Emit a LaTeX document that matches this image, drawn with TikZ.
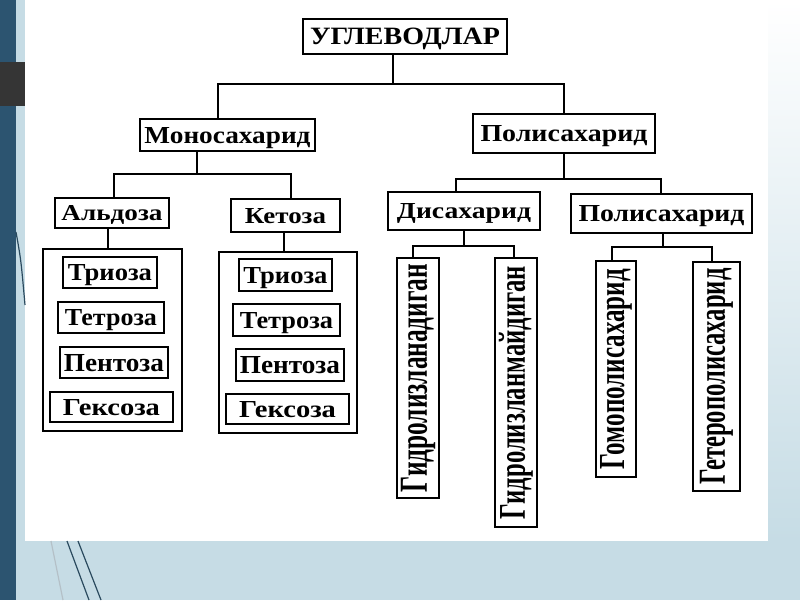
\documentclass[tikz,border=0pt]{standalone}
\usepackage{fontspec}
\setmainfont{Liberation Serif}
\usepackage{graphicx}
\newcommand\lbl[3]{\raisebox{0pt}[#2][0pt]{\resizebox{#1}{#2}{\bfseries #3}}}
\newcommand\vlbl[3]{\rotatebox{90}{\resizebox{#1}{#2}{\bfseries #3}}}
\definecolor{bgblue}{HTML}{C6DCE5}
\definecolor{stripc}{HTML}{2C5470}
\definecolor{sqc}{HTML}{353535}
\definecolor{decoc}{HTML}{2A4A5E}
\begin{document}
\begin{tikzpicture}[x=1pt,y=-1pt,
  box/.style={draw=black, line width=1.8pt, inner sep=0pt, fill=white},
  conn/.style={line width=1.8pt, draw=black},
  deco/.style={line width=1.2pt, draw=decoc}]
\useasboundingbox (0,0) rectangle (800,600);
% background
\fill[bgblue] (0,0) rectangle (800,600);
\shade[top color=white, bottom color=bgblue] (768,0) rectangle (800,541);
\fill[white] (25,0) rectangle (768,541);
\fill[stripc] (0,0) rectangle (16,600);
\fill[sqc] (0,62) rectangle (25,106);
\draw[deco] (16,232) .. controls (21,260) .. (25,305);
\draw[deco] (67,541) -- (89,600);
\draw[deco] (78,541) -- (101,600);
\draw[deco, draw=decoc!35] (51,541) -- (63,600);

% nodes
\node[box, minimum width=204pt, minimum height=35pt] (root) at (405,36.5) {\lbl{190pt}{16.5pt}{УГЛЕВОДЛАР}};
\node[box, minimum width=175pt, minimum height=32pt] (mono) at (227.5,135) {\lbl{166pt}{16pt}{Моносахарид}};
\node[box, minimum width=182pt, minimum height=39pt] (poli) at (564,133.5) {\lbl{167pt}{16pt}{Полисахарид}};
\node[box, minimum width=114pt, minimum height=30pt] (ald) at (112,213) {\lbl{101pt}{15pt}{Альдоза}};
\node[box, minimum width=109pt, minimum height=33pt] (ket) at (285.5,215.5) {\lbl{81pt}{15pt}{Кетоза}};
\node[box, minimum width=152pt, minimum height=38pt] (disah) at (464,211) {\lbl{134pt}{15pt}{Дисахарид}};
\node[box, minimum width=181pt, minimum height=39pt] (poli2) at (661.5,213.5) {\lbl{166pt}{16pt}{Полисахарид}};

\node[box, minimum width=139pt, minimum height=182pt] (g1) at (112.5,340) {};
\node[box, minimum width=138pt, minimum height=181pt] (g2) at (288,342.5) {};

\node[box, minimum width=94pt, minimum height=31pt] (t1) at (110,272.5) {\lbl{84pt}{16pt}{Триоза}};
\node[box, minimum width=106pt, minimum height=31pt] (te1) at (111,317.5) {\lbl{92pt}{16pt}{Тетроза}};
\node[box, minimum width=108pt, minimum height=31pt] (p1) at (114,362.5) {\lbl{100pt}{17pt}{Пентоза}};
\node[box, minimum width=123pt, minimum height=30pt] (h1) at (111.5,407) {\lbl{97pt}{16pt}{Гексоза}};

\node[box, minimum width=93pt, minimum height=32pt] (t2) at (285.5,275) {\lbl{84pt}{16pt}{Триоза}};
\node[box, minimum width=107pt, minimum height=32pt] (te2) at (286.5,320) {\lbl{93pt}{16pt}{Тетроза}};
\node[box, minimum width=108pt, minimum height=32pt] (p2) at (290,365) {\lbl{100pt}{17pt}{Пентоза}};
\node[box, minimum width=123pt, minimum height=30pt] (h2) at (287.5,409) {\lbl{97pt}{16pt}{Гексоза}};

\node[box, minimum width=42pt, minimum height=240pt] (v1) at (418,378) {\vlbl{228pt}{26pt}{Гидролизланадиган}};
\node[box, minimum width=42pt, minimum height=269pt] (v2) at (516,392.5) {\vlbl{253pt}{26pt}{Гидролизланмайдиган}};
\node[box, minimum width=40pt, minimum height=216pt] (v3) at (616,369) {\vlbl{200pt}{24pt}{Гомополисахарид}};
\node[box, minimum width=47pt, minimum height=229pt] (v4) at (716.5,376.5) {\vlbl{216pt}{25pt}{Гетерополисахарид}};

% junctions and x positions
\coordinate (j0) at (393,84);
\coordinate (xm) at (218,0);
\coordinate (j1) at (197,174);
\coordinate (xa) at (114,0);
\coordinate (xk) at (291,0);
\coordinate (xa2) at (108,0);
\coordinate (xk2) at (284,0);
\coordinate (j2) at (564,179);
\coordinate (xd) at (456,0);
\coordinate (xp2) at (661,0);
\coordinate (j3) at (464,246);
\coordinate (xv1) at (413,0);
\coordinate (xv2) at (514,0);
\coordinate (j4) at (663,247);
\coordinate (xv3) at (612,0);
\coordinate (xv4) at (712,0);

% connectors
\draw[conn] (j0 |- root.south) -- (j0);
\draw[conn] (mono.north -| xm) |- (j0) -| (poli.north);
\draw[conn] (j1 |- mono.south) -- (j1);
\draw[conn] (ald.north -| xa) |- (j1) -| (ket.north -| xk);
\draw[conn] (ald.south -| xa2) -- (g1.north -| xa2);
\draw[conn] (ket.south -| xk2) -- (g2.north -| xk2);
\draw[conn] (j2 |- poli.south) -- (j2);
\draw[conn] (disah.north -| xd) |- (j2) -| (poli2.north -| xp2);
\draw[conn] (j3 |- disah.south) -- (j3);
\draw[conn] (v1.north -| xv1) |- (j3) -| (v2.north -| xv2);
\draw[conn] (j4 |- poli2.south) -- (j4);
\draw[conn] (v3.north -| xv3) |- (j4) -| (v4.north -| xv4);
\end{tikzpicture}
\end{document}
